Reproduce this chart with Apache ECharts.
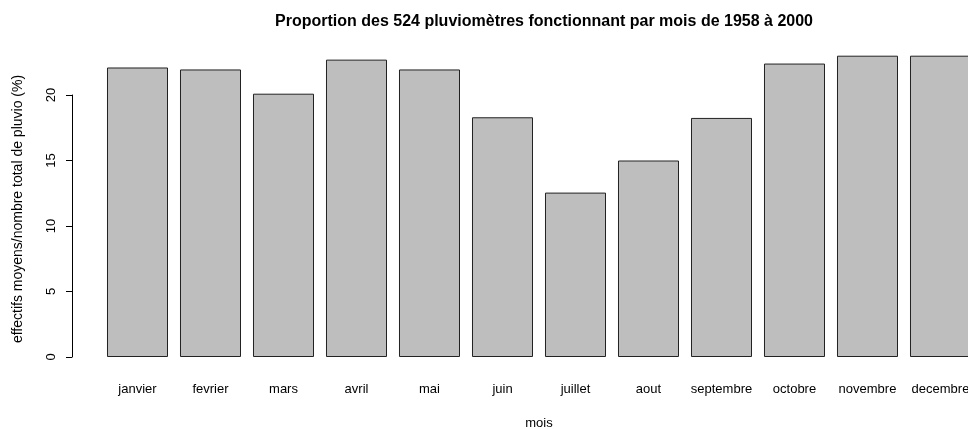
<!DOCTYPE html>
<html>
<head>
<meta charset="utf-8">
<script src="https://cdn.jsdelivr.net/npm/echarts@6/dist/echarts.min.js"></script>
<style>
  html, body { margin: 0; padding: 0; background: #fff; }
  #chart { width: 968px; height: 429px; }
</style>
</head>
<body>
<div id="chart"></div>
<script>
// mois et proportions
var mois = ['janvier', 'fevrier', 'mars', 'avril', 'mai', 'juin', 'juillet',
  'aout', 'septembre', 'octobre', 'novembre', 'decembre'];
var proportions = [22.1, 21.95, 20.1, 22.7, 21.95, 18.3, 12.55, 15.0, 18.25, 22.4, 23.0, 23.0];
var yTicks = [0, 5, 10, 15, 20];

var font = 'Liberation Sans, Arial, sans-serif';
var chart = echarts.init(document.getElementById('chart'));

var option = {
  backgroundColor: '#fff',
  animation: false,
  title: {
    text: 'Proportion des 524 pluviomètres fonctionnant par mois de 1958 à 2000',
    left: 539,
    top: 9,
    textAlign: 'center',
    textStyle: { fontFamily: font, fontSize: 16, fontWeight: 'bold', color: '#000' }
  },
  grid: { left: 101, width: 876, top: 95, bottom: 72, outerBoundsMode: 'none' },
  xAxis: {
    type: 'category',
    data: mois,
    name: 'mois',
    nameLocation: 'middle',
    nameGap: 60,
    nameTextStyle: { fontFamily: font, fontSize: 13, color: '#000' },
    axisLine: { show: false },
    axisTick: { show: false },
    axisLabel: { margin: 26, fontFamily: font, fontSize: 13, color: '#000', interval: 0 }
  },
  yAxis: {
    type: 'value',
    min: yTicks[0],
    max: yTicks[yTicks.length - 1],
    interval: 5,
    offset: 29,
    splitLine: { show: false },
    axisLine: { show: true, lineStyle: { color: '#000', width: 1 } },
    axisTick: { show: true, length: 6, lineStyle: { color: '#000' } },
    axisLabel: { rotate: 90, margin: 14, fontFamily: font, fontSize: 13, color: '#000' }
  },
  graphic: [{
    type: 'text',
    x: 18,
    y: 209,
    rotation: Math.PI / 2,
    style: {
      text: 'effectifs moyens/nombre total de pluvio (%)',
      fontFamily: font,
      fontSize: 14,
      fill: '#000',
      align: 'center',
      verticalAlign: 'middle'
    }
  }],
  series: [{
    type: 'bar',
    data: proportions,
    clip: false,
    barCategoryGap: '16.4%',
    itemStyle: { color: '#bebebe', borderColor: '#222', borderWidth: 1 }
  }]
};

chart.setOption(option);
</script>
</body>
</html>
